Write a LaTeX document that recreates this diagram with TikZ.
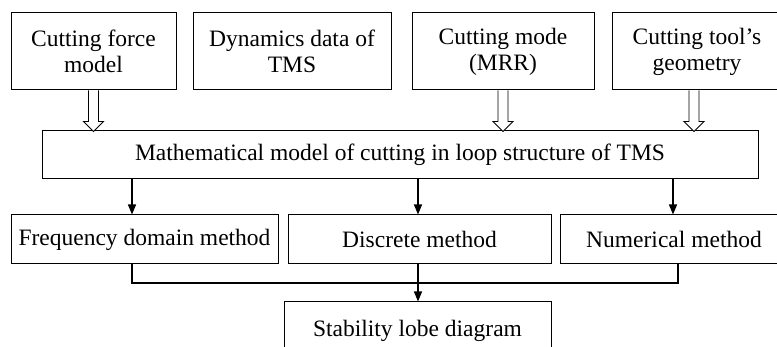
\documentclass[tikz,border=0pt]{standalone}
\usepackage{fontspec}
\setmainfont{Liberation Serif}
\usetikzlibrary{calc,arrows.meta}
\begin{document}
\begin{tikzpicture}[x=1pt,y=-1pt,
  box/.style={draw, line width=1pt, inner sep=0pt, align=center,
    font=\fontsize{23.5}{26}\selectfont},
  hollow/.style={draw, line width=0.9pt, fill=white},
  blk/.style={draw, line width=1.3pt, -{Triangle[length=10pt,width=8pt]}},
  con/.style={draw, line width=1.3pt}]
\useasboundingbox (0,0) rectangle (777,347);
\clip (0,0) rectangle (777,347);
% top row
\node[box, minimum width=165pt, minimum height=77pt] (b1) at (93.5,51.5) {Cutting force\\model};
\node[box, minimum width=198pt, minimum height=77pt] (b2) at (292,51.5) {Dynamics data of\\TMS};
\node[box, minimum width=182pt, minimum height=77pt] (b3) at (503,51.5) {Cutting mode\\(MRR)};
\node[box, minimum width=170pt, minimum height=77pt] (b4) at (697,51.5) {Cutting tool’s\\geometry};
% middle
\node[box, minimum width=716pt, minimum height=48pt] (mid) at (400,155) {Mathematical model of cutting in loop structure of TMS};
% lower row
\node[box, minimum width=267pt, minimum height=49pt] (ma) at (144.5,239.5) {Frequency domain method};
\node[box, minimum width=263pt, minimum height=49pt] (mb) at (419.5,239.5) {Discrete method};
\node[box, minimum width=228pt, minimum height=49pt] (mc) at (674,239.5) {Numerical method};
% result
\node[box, minimum width=267pt, minimum height=58pt] (sl) at (417.5,331) {Stability lobe diagram};
% hollow arrows
\foreach \n/\dx in {b1/0, b3/0, b4/-3}{
  \draw[hollow] ($(\n.south)+(\dx-5,0)$) -- ++(0,31) -- ++(-5,0)
     -- ++(10,10) -- ++(10,-10) -- ++(-5,0) -- ++(0,-31);
}
% black arrows from model to methods
\coordinate (xa) at (132,0);
\coordinate (xb) at (418,0);
\coordinate (xc) at (673,0);
\draw[blk] (mid.south -| xa) -- (ma.north -| xa);
\draw[blk] (mid.south -| xb) -- (mb.north -| xb);
\draw[blk] (mid.south -| xc) -- (mc.north -| xc);
% collecting connector
\coordinate (ya) at (132,283);
\coordinate (yc) at (678,283);
\draw[con] (ma.south -| ya) -- (ya) -- (yc) -- (mc.south -| yc);
\draw[blk] (mb.south -| xb) -- (sl.north -| xb);
\end{tikzpicture}
\end{document}
